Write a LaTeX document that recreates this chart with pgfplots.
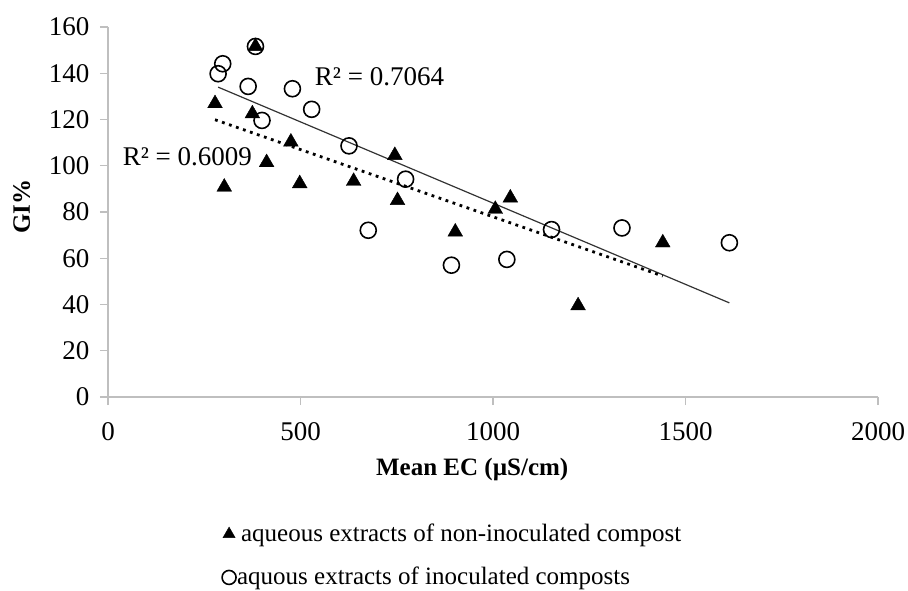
\documentclass[border=0pt]{standalone}
\usepackage{fontspec}
\setmainfont{Liberation Serif}
\usepackage{pgfplots}
\pgfplotsset{compat=1.18}
\definecolor{axgray}{RGB}{191,191,191}
\pgfplotstableread{
x y
286 139.8
298 144.1
383 151.6
364 134.3
479 133.3
400 119.6
529 124.4
626 108.6
773 94.2
676 72.1
892 57.0
1036 59.5
1152 72.4
1335 73.1
1614 66.7
}\circdata
\pgfplotstableread{
x y
278 126.9
383 151.6
375 122.5
302 90.8
412 101.4
475 110.3
498 92.3
638 93.3
745 104.5
752 85.0
902 71.4
1006 81.2
1045 86.1
1221 39.5
1441 66.7
}\tridata
\begin{document}
\fontsize{25}{28}\selectfont
\begin{tikzpicture}
\path[use as bounding box] (0,0) rectangle (908pt,590pt);
\begin{axis}[
  at={(108pt,193pt)}, anchor=south west,
  scale only axis, width=770pt, height=370pt,
  xmin=0, xmax=2000, ymin=0, ymax=160,
  xtick={0,500,...,2000}, ytick={0,20,...,160},
  axis lines=left,
  axis line style={draw=axgray, line width=1.4pt, -},
  tick align=outside, major tick length=8pt,
  tick style={draw=axgray, line width=1.4pt},
  /pgf/number format/assume math mode=true,
  /pgf/number format/1000 sep={},
  ticklabel style={font=\fontsize{27}{30}\selectfont, text=black},
  xticklabel style={yshift=-9pt},
  yticklabel style={xshift=-2pt},
  xlabel={\textbf{Mean EC (µS/cm)}},
  ylabel={\textbf{GI\%}},
  xlabel style={at={(axis description cs:0.473,0)}, anchor=center, yshift=-72pt, font=\fontsize{25}{28}\selectfont},
  ylabel style={at={(axis description cs:-0.112,0.514)}, anchor=center, font=\fontsize{25}{28}\selectfont},
  clip=false,
  reverse legend,
  legend style={at={(axis description cs:0.144,-0.333)}, anchor=north west, draw=none, fill=none,
    font=\fontsize{25}{28}\selectfont, row sep=20pt,
    nodes={inner sep=1pt}},
  legend cell align=left,
  legend image code/.code={\draw[#1, mark size=7pt] plot coordinates {(0pt,0pt)};},
]
\addplot[only marks, mark=o, mark size=8pt, mark options={line width=1.6pt, draw=black}] table[x=x,y=y] {\circdata};
\addlegendentry{aquous extracts of inoculated composts}
\addplot[only marks, mark=triangle*, mark size=8.5pt, mark options={fill=black, draw=black}] table[x=x,y=y] {\tridata};
\addlegendentry{\hspace{4pt}aqueous extracts of non-inoculated compost}
\addplot[forget plot, black!80, line width=1.2pt] coordinates {(286,134.0) (1614,40.7)};
\addplot[forget plot, black, line width=2.8pt, dash pattern=on 2.8pt off 4.6pt] coordinates {(278,119.9) (1441,52.3)};
\node[anchor=west, font=\fontsize{27}{30}\selectfont, inner sep=0pt] at (axis cs:537,138.4) {R² = 0.7064};
\node[anchor=west, font=\fontsize{27}{30}\selectfont, inner sep=0pt] at (axis cs:38,103.8) {R² = 0.6009};
\end{axis}
\end{tikzpicture}
\end{document}
